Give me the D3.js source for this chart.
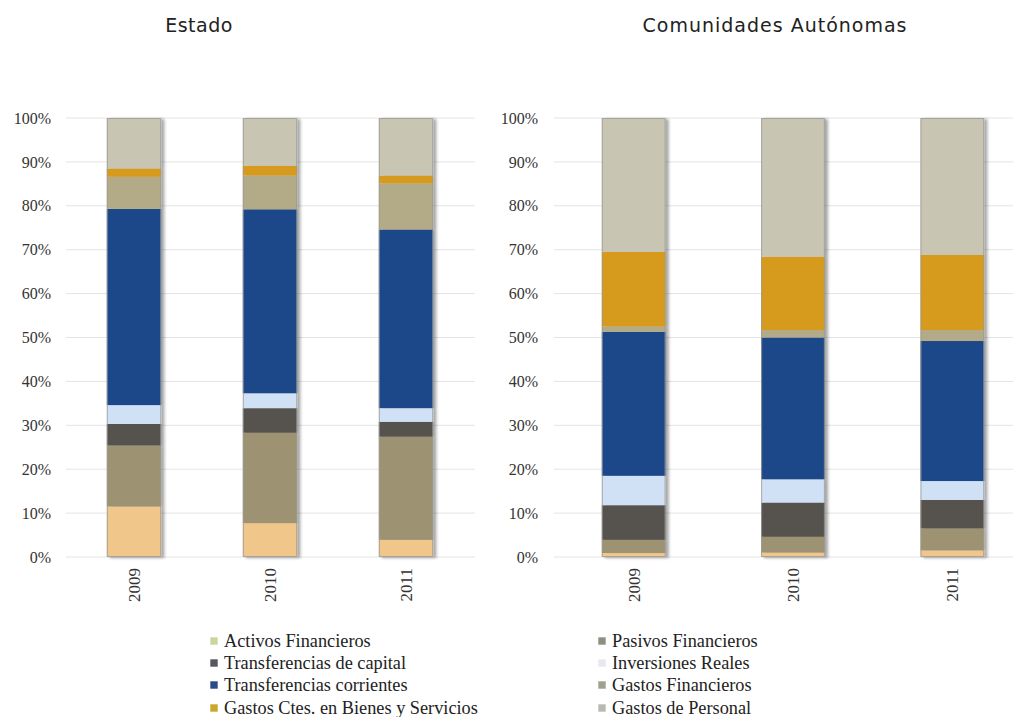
<!DOCTYPE html>
<html>
<head>
<meta charset="utf-8">
<script src="https://cdn.jsdelivr.net/npm/d3@7"></script>
<style>
  html, body { margin: 0; padding: 0; background: #fff; }
  svg { display: block; }
</style>
</head>
<body>
<svg id="chart" width="1019" height="717"></svg>
<script>
// Years on the x axis
const years = ["2009", "2010", "2011"];

// Spending chapters, in stacking order (bottom to top)
const series = [
  "Activos Financieros",
  "Pasivos Financieros",
  "Transferencias de capital",
  "Inversiones Reales",
  "Transferencias corrientes",
  "Gastos Financieros",
  "Gastos Ctes. en Bienes y Servicios",
  "Gastos de Personal"
];

// Share of total spending (%) per chapter, one value per year
const estadoActivos      = [11.5, 7.7, 3.9];
const estadoPasivos      = [13.9, 20.6, 23.5];
const estadoTransfCap    = [4.9, 5.6, 3.4];
const estadoInversiones  = [4.3, 3.4, 3.1];
const estadoTransfCorr   = [44.7, 41.9, 40.7];
const estadoGastosFin    = [7.3, 7.7, 10.5];
const estadoBienesServ   = [1.9, 2.2, 1.8];
const estadoPersonal     = [11.5, 10.9, 13.1];

const ccaaActivos        = [0.9, 1.0, 1.5];
const ccaaPasivos        = [3.0, 3.6, 5.0];
const ccaaTransfCap      = [7.9, 7.8, 6.5];
const ccaaInversiones    = [6.7, 5.3, 4.3];
const ccaaTransfCorr     = [32.8, 32.3, 31.9];
const ccaaGastosFin      = [1.2, 1.7, 2.5];
const ccaaBienesServ     = [17.0, 16.7, 17.1];
const ccaaPersonal       = [30.5, 31.6, 31.2];

const yTicks = [0, 10, 20, 30, 40, 50, 60, 70, 80, 90, 100];

const estadoSeries = [estadoActivos, estadoPasivos, estadoTransfCap, estadoInversiones,
                      estadoTransfCorr, estadoGastosFin, estadoBienesServ, estadoPersonal];
const ccaaSeries = [ccaaActivos, ccaaPasivos, ccaaTransfCap, ccaaInversiones,
                    ccaaTransfCorr, ccaaGastosFin, ccaaBienesServ, ccaaPersonal];

// Fill colours of the bar segments and of the legend keys
const barColors = ["#f1c68a", "#9d9373", "#57524f", "#d0e1f5",
                   "#1f4788", "#b3ab88", "#d69b1d", "#c9c5b3"];
const keyColors = ["#c8d79c", "#8b9080", "#5a5560", "#e6e8f0",
                   "#2b4a8a", "#9ca191", "#c9a82a", "#b9b9b1"];

const svg = d3.select("#chart");

const defs = svg.append("defs");
const shadow = defs.append("filter").attr("id", "barShadow")
  .attr("x", "-20%").attr("y", "-5%").attr("width", "150%").attr("height", "115%");
shadow.append("feDropShadow").attr("dx", 3).attr("dy", 1)
  .attr("stdDeviation", 1.6).attr("flood-color", "#000").attr("flood-opacity", 0.35);

const y = d3.scaleLinear().domain([0, 1]).range([557, 118]);

function drawPanel(opts) {
  const { title, titleX, titleSpacing, values, xRange, gridEnd, labelX } = opts;

  const x = d3.scaleBand().domain(years).range(xRange)
    .paddingInner(0.6).paddingOuter(0.3);

  const g = svg.append("g");

  // Gridlines
  g.append("g").selectAll("line").data(yTicks).join("line")
    .attr("x1", xRange[0]).attr("x2", gridEnd)
    .attr("y1", d => y(d / 100)).attr("y2", d => y(d / 100))
    .attr("stroke", "#e4e4e4").attr("stroke-width", 1);

  // Y axis tick labels
  g.append("g").selectAll("text").data(yTicks).join("text")
    .attr("x", labelX).attr("y", d => y(d / 100)).attr("dy", "0.35em")
    .attr("text-anchor", "end")
    .attr("font-family", "'Liberation Serif', serif").attr("font-size", 16)
    .attr("fill", "#333")
    .text(d => d + "%");

  // Stacked, normalised data
  const rows = years.map((yr, i) => {
    const r = { year: yr };
    series.forEach((s, k) => { r[s] = values[k][i]; });
    return r;
  });
  const stacked = d3.stack().keys(series).offset(d3.stackOffsetExpand)(rows);

  // One group per bar so the shadow falls around the whole column
  const barG = g.append("g").selectAll("g").data(years).join("g")
    .attr("filter", "url(#barShadow)");

  barG.each(function(yr, i) {
    const bg = d3.select(this);
    stacked.forEach((layer, k) => {
      const d = layer[i];
      bg.append("rect")
        .attr("x", x(yr)).attr("width", x.bandwidth())
        .attr("y", y(d[1])).attr("height", Math.max(0, y(d[0]) - y(d[1])))
        .attr("fill", barColors[k]);
    });
    bg.append("rect")
      .attr("x", x(yr) + 0.5).attr("width", x.bandwidth() - 1)
      .attr("y", y(1) + 0.5).attr("height", y(0) - y(1) - 1)
      .attr("fill", "none").attr("stroke", "#9a9a96").attr("stroke-width", 1)
      .attr("stroke-opacity", 0.8);
  });

  // Year labels, rotated
  g.append("g").selectAll("text").data(years).join("text")
    .attr("transform", d => `translate(${x(d) + x.bandwidth() / 2 + 6},568) rotate(-90)`)
    .attr("text-anchor", "end")
    .attr("font-family", "'Liberation Serif', serif").attr("font-size", 17)
    .attr("fill", "#333")
    .text(d => d);

  // Panel title
  svg.append("text")
    .attr("x", titleX).attr("y", 32).attr("text-anchor", "middle")
    .attr("font-family", "'DejaVu Sans', sans-serif").attr("font-size", 19)
    .attr("letter-spacing", titleSpacing)
    .attr("fill", "#222")
    .text(title);
}

drawPanel({ title: "Estado", titleX: 199, titleSpacing: 0.5, values: estadoSeries,
            xRange: [66, 474], gridEnd: 475, labelX: 51 });
drawPanel({ title: "Comunidades Autónomas", titleX: 775, titleSpacing: 1, values: ccaaSeries,
            xRange: [554, 1032], gridEnd: 1013, labelX: 538 });

// Legend: two columns, filled row by row
const legendRows = [641, 663, 685, 708];
const legendCols = [210, 598];
const legend = svg.append("g").selectAll("g").data(series).join("g")
  .attr("transform", (d, i) => `translate(${legendCols[i % 2]},${legendRows[Math.floor(i / 2)]})`);
legend.append("rect")
  .attr("x", 0).attr("y", -4).attr("width", 8).attr("height", 8)
  .attr("fill", (d, i) => keyColors[i])
  .attr("stroke", "#fff").attr("stroke-width", 0.6);
legend.append("text")
  .attr("x", 14).attr("y", 0).attr("dy", "0.35em")
  .attr("font-family", "'Liberation Serif', serif").attr("font-size", 18.3)
  .attr("fill", "#222")
  .text(d => d);
</script>
</body>
</html>
